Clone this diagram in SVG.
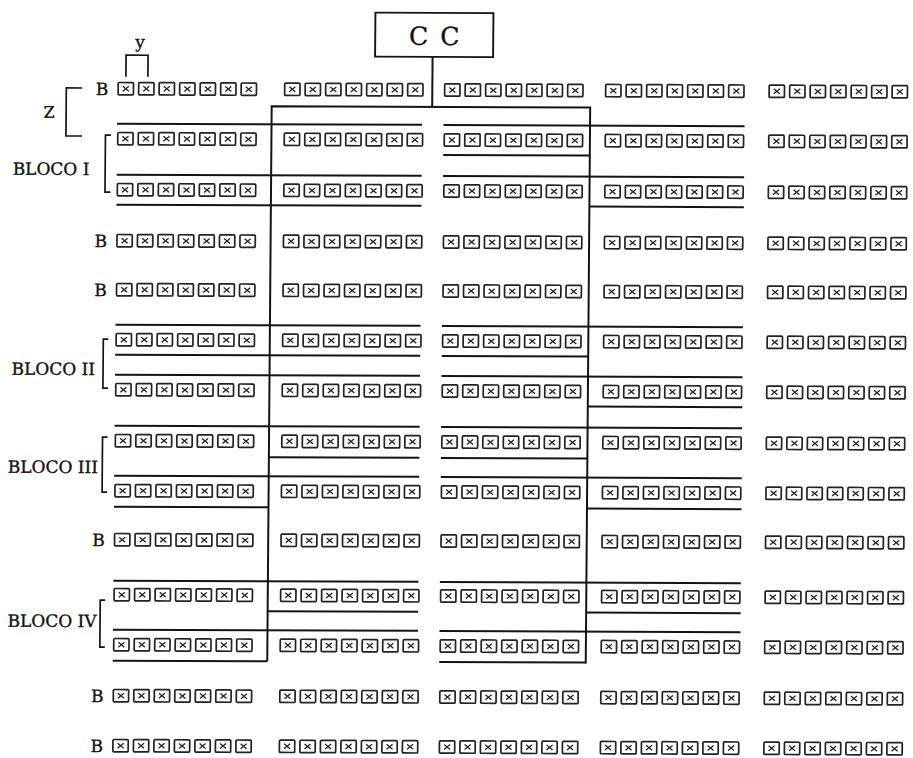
<svg xmlns="http://www.w3.org/2000/svg" width="913" height="758" viewBox="0 0 913 758">
<style>
.t{font-family:"DejaVu Serif","Liberation Serif",serif;fill:#111;stroke:#111;stroke-width:0.35}
.ln{fill:none;stroke:#141414;stroke-width:2;stroke-linecap:butt}
.br{fill:none;stroke:#141414;stroke-width:1.7}
</style>
<defs>
<g id="c"><rect x="0.85" y="0.85" width="15.3" height="12.3" rx="1" fill="none" stroke="#222" stroke-width="1.7"/><path d="M5.5 4.5L11.5 9.5M11.5 4.5L5.5 9.5" fill="none" stroke="#222" stroke-width="1.3"/></g>
<g id="s"><use href="#c"/><use href="#c" x="20.5"/><use href="#c" x="41"/><use href="#c" x="61.5"/><use href="#c" x="82"/><use href="#c" x="102.5"/><use href="#c" x="123"/></g>
</defs>
<rect width="913" height="758" fill="#fff"/>
<g transform="matrix(1 0.004 -0.008 1 3.04 -1.824)">
<g id="cc">
<rect x="372.5" y="13" width="118" height="44" fill="#fff" stroke="#141414" stroke-width="1.9"/>
<text class="t" x="432.5" y="45" font-size="25" text-anchor="middle" letter-spacing="2">C C</text>
</g>
<g id="labels">
<text class="t" x="137.5" y="49" font-size="17" text-anchor="middle">y</text>
<path class="br" d="M123.5 78V56.5H145.5V78"/>
<text class="t" x="47" y="119.5" font-size="16" text-anchor="middle">Z</text>
<path class="br" d="M80 89.5H64V137.5H80"/>
<text class="t" x="93.5" y="96.5" font-size="17">B</text>
<text class="t" x="93.5" y="248.5" font-size="17">B</text>
<text class="t" x="93.5" y="297.5" font-size="17">B</text>
<text class="t" x="93.5" y="547.5" font-size="17">B</text>
<text class="t" x="93.5" y="703.5" font-size="17">B</text>
<text class="t" x="93.5" y="753.5" font-size="17">B</text>
<text class="t" x="11" y="176.5" font-size="17">BLOCO I</text>
<path class="br" d="M109 136.5H103.5V193.5H109"/>
<text class="t" x="11.5" y="376.5" font-size="17">BLOCO II</text>
<path class="br" d="M108 340.5H103V389.5H108"/>
<text class="t" x="8.5" y="474.5" font-size="17">BLOCO III</text>
<path class="br" d="M108 438.5H103V493.5H108"/>
<text class="t" x="9.5" y="628.5" font-size="17">BLOCO IV</text>
<path class="br" d="M107 601.5H102V648.5H107"/>
</g>
<g id="plots">
<g id="row1"><use href="#s" x="115" y="83"/><use href="#s" x="281.5" y="83"/><use href="#s" x="441.5" y="83"/><use href="#s" x="602.5" y="83"/><use href="#s" x="766" y="83"/></g>
<g id="row2"><use href="#s" x="115" y="133"/><use href="#s" x="281.5" y="133"/><use href="#s" x="441.5" y="133"/><use href="#s" x="602.5" y="133"/><use href="#s" x="766" y="133"/></g>
<g id="row3"><use href="#s" x="115" y="184"/><use href="#s" x="281.5" y="184"/><use href="#s" x="441.5" y="184"/><use href="#s" x="602.5" y="184"/><use href="#s" x="766" y="184"/></g>
<g id="row4"><use href="#s" x="115" y="235"/><use href="#s" x="281.5" y="235"/><use href="#s" x="441.5" y="235"/><use href="#s" x="602.5" y="235"/><use href="#s" x="766" y="235"/></g>
<g id="row5"><use href="#s" x="115" y="284"/><use href="#s" x="281.5" y="284"/><use href="#s" x="441.5" y="284"/><use href="#s" x="602.5" y="284"/><use href="#s" x="766" y="284"/></g>
<g id="row6"><use href="#s" x="115" y="334"/><use href="#s" x="281.5" y="334"/><use href="#s" x="441.5" y="334"/><use href="#s" x="602.5" y="334"/><use href="#s" x="766" y="334"/></g>
<g id="row7"><use href="#s" x="115" y="384"/><use href="#s" x="281.5" y="384"/><use href="#s" x="441.5" y="384"/><use href="#s" x="602.5" y="384"/><use href="#s" x="766" y="384"/></g>
<g id="row8"><use href="#s" x="115" y="435"/><use href="#s" x="281.5" y="435"/><use href="#s" x="441.5" y="435"/><use href="#s" x="602.5" y="435"/><use href="#s" x="766" y="435"/></g>
<g id="row9"><use href="#s" x="115" y="485"/><use href="#s" x="281.5" y="485"/><use href="#s" x="441.5" y="485"/><use href="#s" x="602.5" y="485"/><use href="#s" x="766" y="485"/></g>
<g id="row10"><use href="#s" x="115" y="534"/><use href="#s" x="281.5" y="534"/><use href="#s" x="441.5" y="534"/><use href="#s" x="602.5" y="534"/><use href="#s" x="766" y="534"/></g>
<g id="row11"><use href="#s" x="115" y="589"/><use href="#s" x="281.5" y="589"/><use href="#s" x="441.5" y="589"/><use href="#s" x="602.5" y="589"/><use href="#s" x="766" y="589"/></g>
<g id="row12"><use href="#s" x="115" y="639"/><use href="#s" x="281.5" y="639"/><use href="#s" x="441.5" y="639"/><use href="#s" x="602.5" y="639"/><use href="#s" x="766" y="639"/></g>
<g id="row13"><use href="#s" x="115" y="690"/><use href="#s" x="281.5" y="690"/><use href="#s" x="441.5" y="690"/><use href="#s" x="602.5" y="690"/><use href="#s" x="766" y="690"/></g>
<g id="row14"><use href="#s" x="115" y="740"/><use href="#s" x="281.5" y="740"/><use href="#s" x="441.5" y="740"/><use href="#s" x="602.5" y="740"/><use href="#s" x="766" y="740"/></g>
</g>
<g id="connectors">
<path class="ln" d="M430 57V107M269.5 662V107H588V663"/>
<path class="ln" d="M115 125H420M441.5 125H742.5M441.5 155H588M115 176H420M441.5 176H742.5M115 206H420M588 206H742.5"/>
<path class="ln" d="M115 326H420M441.5 326H742.5M115 356H420M441.5 356H588M115 376H420M441.5 376H742.5M588 406H742.5"/>
<path class="ln" d="M115 427H420M441.5 427H742.5M269.5 458H420M441.5 458H588M115 477H420M441.5 477H742.5M115 508H269.5M588 508H742.5"/>
<path class="ln" d="M115 582H420M441.5 582H742.5M269.5 612H420M588 612H742.5M115 631H420M441.5 631H742.5M115 662H269.5M441.5 662H588"/>
</g>
</g>
</svg>
